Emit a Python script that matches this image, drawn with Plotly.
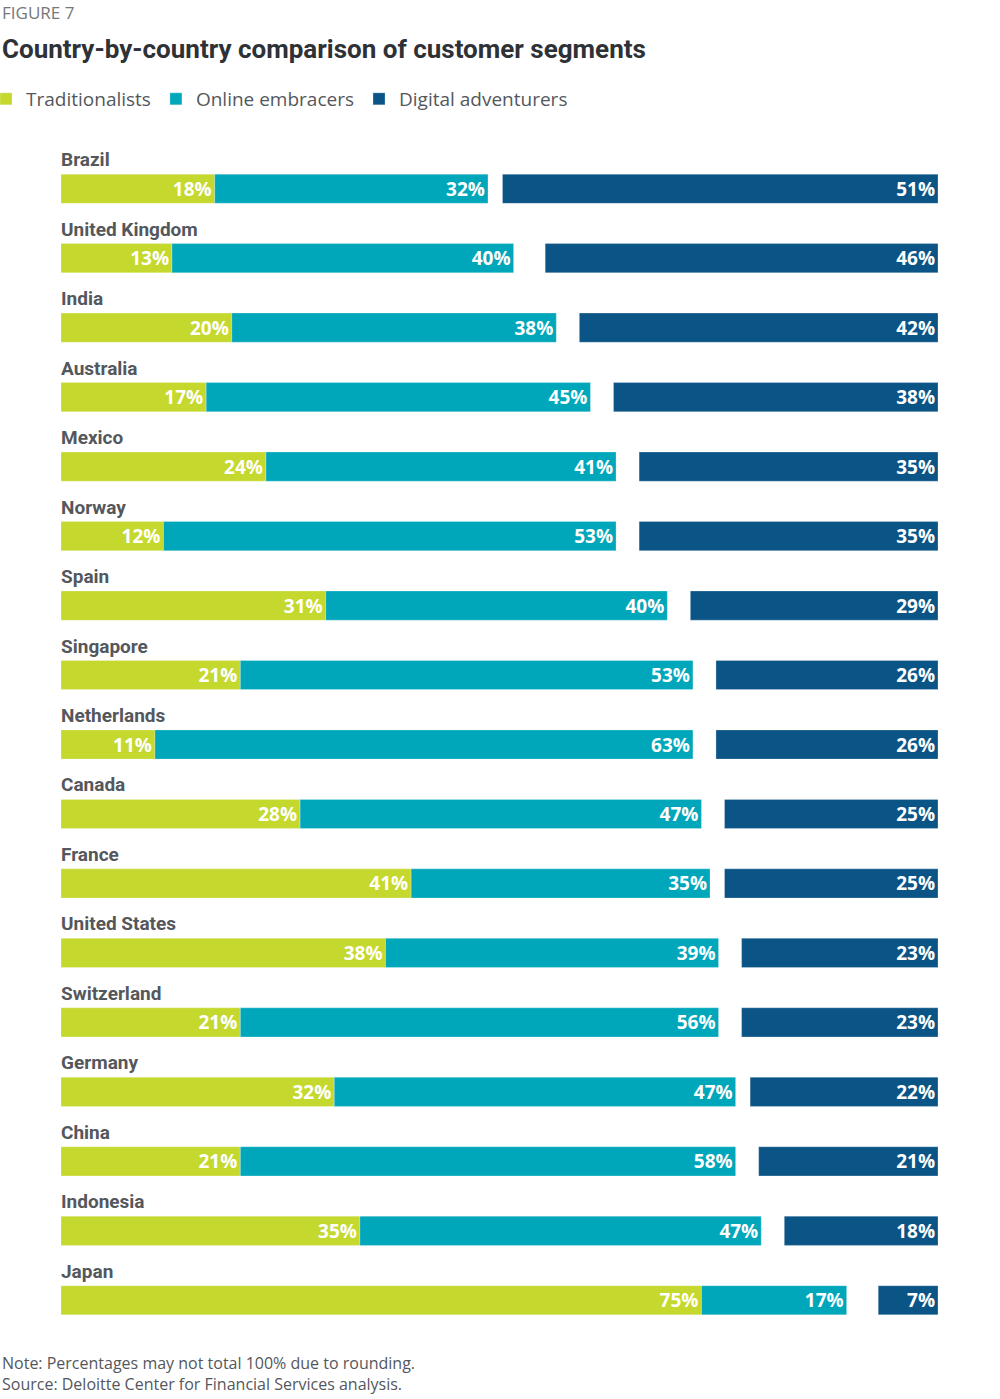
import plotly.graph_objects as go

countries = ['Brazil', 'United Kingdom', 'India', 'Australia', 'Mexico', 'Norway', 'Spain',
             'Singapore', 'Netherlands', 'Canada', 'France', 'United States', 'Switzerland',
             'Germany', 'China', 'Indonesia', 'Japan']
traditionalists = [18, 13, 20, 17, 24, 12, 31, 21, 11, 28, 41, 38, 21, 32, 21, 35, 75]
online_embracers = [32, 40, 38, 45, 41, 53, 40, 53, 63, 47, 35, 39, 56, 47, 58, 47, 17]
digital_adventurers = [51, 46, 42, 38, 35, 35, 29, 26, 26, 25, 25, 23, 23, 22, 21, 18, 7]

# digital bars are pinned to the right end, with a gap before them
RIGHT_END = 102.7

GREEN = '#C5D82D'
TEAL = '#00A7BA'
NAVY = '#0B5486'
GREY = '#54575C'
NARROW_FONT = 'Roboto, sans-serif'
BODY_FONT = 'Open Sans, sans-serif'


def pct(vals):
    return ['<b>{}%</b>'.format(v) for v in vals]


bar_style = dict(
    orientation='h',
    width=0.42,
    textposition='inside',
    insidetextanchor='end',
    constraintext='none',
    textfont=dict(family=BODY_FONT, size=19, color='white'),
    hoverinfo='skip',
)

data = [
    go.Bar(
        y=countries,
        x=traditionalists,
        name='Traditionalists',
        text=pct(traditionalists),
        marker=dict(color=GREEN, line=dict(color='rgba(255,255,255,0.5)', width=0.5)),
        **bar_style
    ),
    go.Bar(
        y=countries,
        x=online_embracers,
        base=traditionalists,
        name='Online embracers',
        text=pct(online_embracers),
        marker=dict(color=TEAL, line=dict(color='rgba(255,255,255,0.5)', width=0.5)),
        **bar_style
    ),
    go.Bar(
        y=countries,
        x=digital_adventurers,
        base=[RIGHT_END - v for v in digital_adventurers],
        name='Digital adventurers',
        text=pct(digital_adventurers),
        marker=dict(color=NAVY, line=dict(color='rgba(255,255,255,0.5)', width=0.5)),
        **bar_style
    ),
]

annotations = [
    dict(x=0, y=c, xref='x', yref='y', text='<b>{}</b>'.format(c), showarrow=False,
         xanchor='left', yanchor='middle', yshift=29, xshift=-2,
         font=dict(family=NARROW_FONT, size=19, color=GREY))
    for c in countries
]
annotations += [
    dict(x=-0.0696, y=1.1202, xref='paper', yref='paper', text='FIGURE 7', showarrow=False,
         xanchor='left', yanchor='middle', font=dict(family=BODY_FONT, size=17, color='#75787B')),
    dict(x=-0.0696, y=1.0889, xref='paper', yref='paper',
         text='<b>Country-by-country comparison of customer segments</b>', showarrow=False,
         xanchor='left', yanchor='middle', font=dict(family=NARROW_FONT, size=26, color='#2E3136')),
    dict(x=-0.0696, y=-0.0237, xref='paper', yref='paper',
         text='Note: Percentages may not total 100% due to rounding.', showarrow=False,
         xanchor='left', yanchor='middle', font=dict(family=BODY_FONT, size=16, color=GREY)),
    dict(x=-0.0696, y=-0.0415, xref='paper', yref='paper',
         text='Source: Deloitte Center for Financial Services analysis.', showarrow=False,
         xanchor='left', yanchor='middle', font=dict(family=BODY_FONT, size=16, color=GREY)),
]

layout = go.Layout(
    width=1000,
    height=1399,
    margin=dict(l=61, r=62, t=154, b=64, autoexpand=False),
    barmode='overlay',
    plot_bgcolor='white',
    paper_bgcolor='white',
    showlegend=True,
    legend=dict(
        orientation='h',
        x=-0.0855, y=1.0466,
        xanchor='left', yanchor='middle',
        font=dict(family=BODY_FONT, size=19, color=GREY),
        traceorder='normal',
        itemwidth=30,
        itemclick=False,
        itemdoubleclick=False,
    ),
    xaxis=dict(range=[0, RIGHT_END], visible=False, fixedrange=True),
    yaxis=dict(range=[len(countries) - 0.5, -0.5], visible=False, fixedrange=True),
    annotations=annotations,
)

fig = go.Figure(data=data, layout=layout)
# drop the default page margin so the figure sits flush with the window
fig.write_html('out.html', config={'displayModeBar': False},
               post_script="document.body.style.margin = '0';")
